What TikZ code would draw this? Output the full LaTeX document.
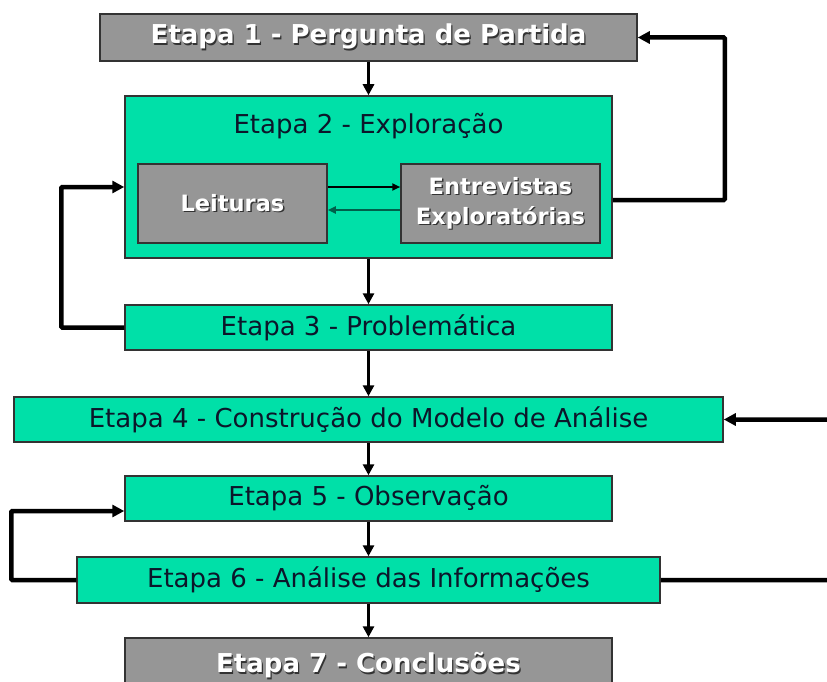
\documentclass[tikz,border=0pt]{standalone}
\usepackage{fontspec}
\setmainfont{DejaVu Sans}
\usetikzlibrary{arrows.meta,positioning}
\definecolor{etapagreen}{RGB}{0,224,168}
\definecolor{etapagray}{RGB}{150,150,150}
\definecolor{etapatext}{RGB}{12,22,42}
\definecolor{backteal}{RGB}{0,95,75}
\newcommand{\shadowtext}[1]{\rlap{\kern1.3pt\raisebox{-1.3pt}{\textcolor{black!80}{#1}}}#1}

\begin{document}
\begin{tikzpicture}[x=1pt,y=-1pt,
	greenbox/.style={rectangle, draw=black!80, line width=1.5pt, fill=etapagreen, text=etapatext, inner sep=0pt, font=\fontsize{26}{30}\selectfont},
	graybox/.style={rectangle, draw=black!80, line width=1.5pt, fill=etapagray, text=white, inner sep=0pt, align=center, font=\fontsize{26}{30}\selectfont\bfseries},
	smallgray/.style={graybox, font=\fontsize{22.5}{30}\selectfont\bfseries},
	downarrow/.style={line width=3.5pt, -{Triangle[length=11pt,width=11pt]}},
	backline/.style={line width=4.5pt, rounded corners=1pt, -{Triangle[length=12pt,width=12pt]}},
	innerarrow/.style={line width=2pt, -{Triangle[length=8pt,width=7pt]}}]
		\useasboundingbox (0,0) rectangle (827,682);
		\clip (0,0) rectangle (827,682);

		\node[graybox, minimum width=537pt, minimum height=47pt] (e1) at (368.5,37.5) {\shadowtext{Etapa 1 - Pergunta de Partida}};
		\node[greenbox, minimum width=487pt, minimum height=162pt] (e2) at (368.5,177) {};
		\node[text=etapatext, font=\fontsize{26}{30}\selectfont] (e2title) at (368.5,126) {Etapa 2 - Exploração};
		\node[smallgray, minimum width=189pt, minimum height=79pt] (leit) at (232.5,203.5) {\shadowtext{Leituras}};
		\node[smallgray, minimum width=199pt, minimum height=79pt] (entr) at (500.5,203.5) {\shadowtext{Entrevistas}\\\shadowtext{Exploratórias}};
		\node[greenbox, minimum width=487pt, minimum height=45pt] (e3) at (368.5,327.5) {Etapa 3 - Problemática};
		\node[greenbox, minimum width=709pt, minimum height=45pt] (e4) at (368.5,419.5) {Etapa 4 - Construção do Modelo de Análise};
		\node[greenbox, minimum width=487pt, minimum height=45pt] (e5) at (368.5,498.5) {Etapa 5 - Observação};
		\node[greenbox, minimum width=583pt, minimum height=46pt] (e6) at (368.5,580) {Etapa 6 - Análise das Informações};
		\node[graybox, minimum width=487pt, minimum height=56pt] (e7) at (368.5,666) {\shadowtext{Etapa 7 - Conclusões}};

		\draw[downarrow] (e1.south) -- (e2.north);
		\draw[downarrow] (e2.south) -- (e3.north);
		\draw[downarrow] (e3.south) -- (e4.north);
		\draw[downarrow] (e4.south) -- (e5.north);
		\draw[downarrow] (e5.south) -- (e6.north);
		\draw[downarrow] (e6.south) -- (e7.north);

		\draw[innerarrow] ([yshift=16.5pt]leit.east) -- ([yshift=16.5pt]entr.west);
		\draw[innerarrow, draw=backteal, fill=backteal] ([yshift=-6.5pt]entr.west) -- ([yshift=-6.5pt]leit.east);

		% return loops
		\draw[backline] ([yshift=-23pt]e2.east) -- ++(112,0) |- (e1.east);
		\draw[backline] (e3.west) -- ++(-63,0) |- ([yshift=-10pt]e2.west);
		\draw[backline] (e6.west) -- ++(-65,0) |- ([yshift=-12.5pt]e5.west);
		\draw[backline] (e6.east) -- ++(200,0) |- (e4.east);
	\end{tikzpicture}
\end{document}
